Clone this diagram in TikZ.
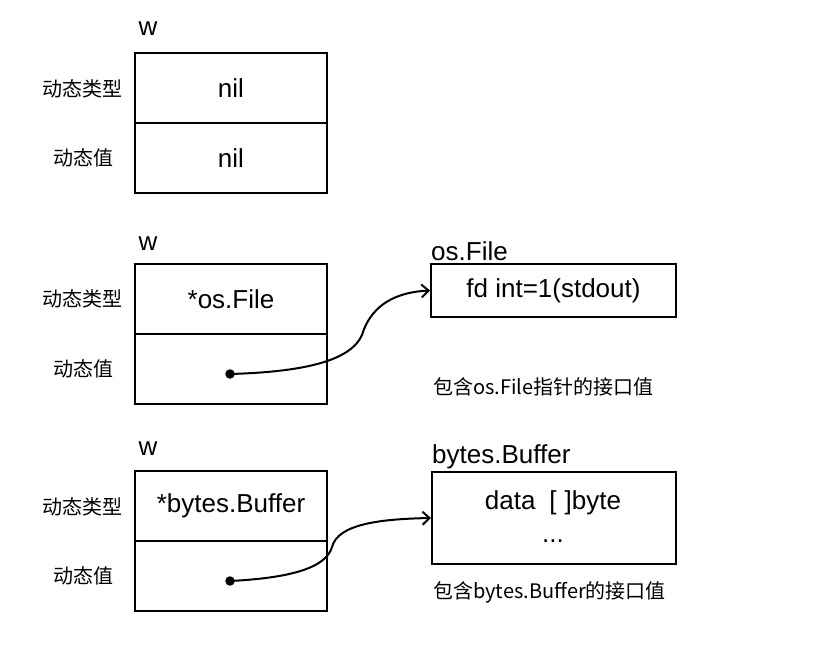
\documentclass[tikz,border=0pt]{standalone}
\usepackage{fontspec}
\setmainfont{Liberation Sans}
\newfontfamily\cjk{Noto Sans CJK SC}
\usetikzlibrary{arrows.meta}

\tikzset{
  cell/.style={draw, line width=2pt, minimum width=192pt, minimum height=70pt,
    inner sep=0pt, font=\fontsize{26}{30}\selectfont},
  objbox/.style={draw, line width=2pt, inner sep=0pt, font=\fontsize{26}{30}\selectfont},
  varname/.style={inner sep=0pt, font=\fontsize{26}{30}\selectfont},
  rowlabel/.style={inner sep=0pt, font=\cjk\fontsize{20}{24}\selectfont},
  caption/.style={inner sep=0pt, anchor=west, font=\cjk\fontsize{20}{24}\selectfont},
  ptrdot/.style={circle, fill=black, inner sep=0pt, minimum size=9.5pt},
  ptr/.style={line width=2pt, -{Straight Barb[length=7pt,width=13pt,line width=2pt]}}
}

\begin{document}
\begin{tikzpicture}[x=1pt, y=-1pt]
  \useasboundingbox (0,0) rectangle (815,654);

  % first interface value: nil type, nil value
  \node[varname] (w1) at (148,29) {w};
  \node[cell] (t1) at (231,88) {nil};
  \node[cell] (v1) at (231,158) {nil};
  \node[rowlabel] (lt1) at (82,89) {动态类型};
  \node[rowlabel] (lv1) at (83,158) {动态值};

  % second interface value: *os.File
  \node[varname] (w2) at (148,244) {w};
  \node[cell] (t2) at (231,299) {*os.File};
  \node[cell] (v2) at (231,369) {};
  \node[rowlabel] (lt2) at (82,299) {动态类型};
  \node[rowlabel] (lv2) at (83,369) {动态值};
  \node[ptrdot] (d2) at (230,374) {};

  \node[objbox, minimum width=245pt, minimum height=53pt] (fbox) at (553.5,290.5) {fd int=1(stdout)};
  \node[varname, anchor=south west] (fname) at (431,261) {os.File};
  \node[caption] (cap1) at (433,387) {包含os.File指针的接口值};

  \coordinate (m2) at (362,335);
  \draw[ptr] (d2.center) .. controls (300,372) and (350,362) .. (m2)
    .. controls (372,302) and (400,292) .. (fbox.west);

  % third interface value: *bytes.Buffer
  \node[varname] (w3) at (148,449) {w};
  \node[cell] (t3) at (231,506) {*bytes.Buffer};
  \node[cell] (v3) at (231,576) {};
  \node[rowlabel] (lt3) at (82,507) {动态类型};
  \node[rowlabel] (lv3) at (83,576) {动态值};
  \node[ptrdot] (d3) at (230,581) {};

  \node[objbox, minimum width=244pt, minimum height=92pt] (bbox) at (554,518) {};
  \node[varname] (bdata) at (553,503) {data\hspace{14pt}[\hspace{8pt}]byte};
  \node[varname] (bdots) at (553,541) {...};
  \node[varname, anchor=south west] (bname) at (432,469) {bytes.Buffer};
  \node[caption] (cap2) at (433,592) {包含bytes.Buffer的接口值};

  \coordinate (m3) at (332,547);
  \draw[ptr] (d3.center) .. controls (290,578) and (326,568) .. (m3)
    .. controls (338,524) and (380,519) .. (bbox.west);
\end{tikzpicture}
\end{document}
